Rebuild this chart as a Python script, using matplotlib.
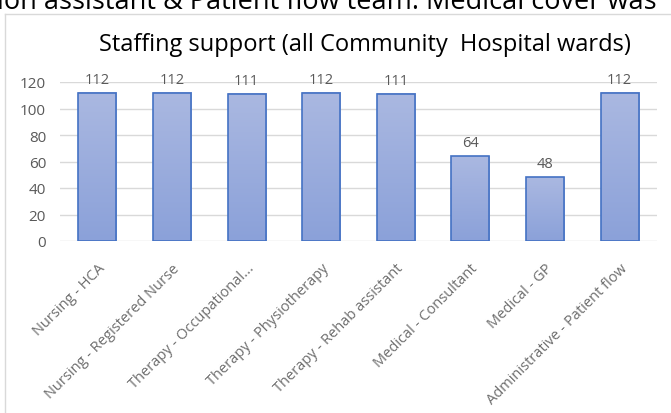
import matplotlib.pyplot as plt
import numpy as np
from matplotlib.colors import LinearSegmentedColormap

# Data
categories = ["Nursing - HCA", "Nursing - Registered Nurse", "Therapy - Occupational...",
              "Therapy - Physiotherapy", "Therapy - Rehab assistant", "Medical - Consultant",
              "Medical - GP", "Administrative - Patient flow"]
values = [112, 112, 111, 112, 111, 64, 48, 112]
yticks = [0, 20, 40, 60, 80, 100, 120]

plt.rcParams['font.family'] = ['Open Sans', 'DejaVu Sans']
grey = "#595959"

fig = plt.figure(figsize=(6.71, 4.14), dpi=100)

# clipped document line above the chart
fig.text(-0.004, 1 - 9 / 414, "ion assistant & Patient flow team. Medical cover was",
         fontsize=19.5, color="black", va="baseline", ha="left")

# chart frame
fig.add_artist(plt.Line2D([5 / 671, 5 / 671], [0, 1 - 15 / 414], color="#d9d9d9", lw=1))
fig.add_artist(plt.Line2D([5 / 671, 1], [1 - 15 / 414, 1 - 15 / 414], color="#d9d9d9", lw=1))

ax = fig.add_axes([60 / 671, 1 - 242 / 414, (657 - 60) / 671, (242 - 83) / 414])
x = np.arange(len(categories))
w = 0.51
bars = ax.bar(x, values, width=w, color="none", edgecolor="#4472c4", linewidth=1.2, zorder=4)

# vertical gradient inside each bar
grad = np.linspace(0, 1, 100).reshape(-1, 1)
cmap = LinearSegmentedColormap.from_list("g", ["#8ba1d9", "#aab8e1"])
for xi, v in zip(x, values):
    ax.imshow(grad, extent=(xi - w / 2, xi + w / 2, 0, v), origin="lower", cmap=cmap,
              aspect="auto", zorder=3.5)

for xi, v in zip(x, values):
    ax.text(xi, v + 4.5, str(v), ha="center", va="bottom", fontsize=10.5, color=grey)

ax.set_xlim(-0.5, len(categories) - 0.5)
ax.set_ylim(0, 120)
ax.set_yticks(yticks)
ax.set_yticklabels([str(t) for t in yticks], fontsize=11, color=grey)
ax.set_xticks(x)
ax.set_xticklabels(categories, rotation=45, ha="right", va="top", rotation_mode="anchor",
                   fontsize=10.5, color="#6e6e6e")
ax.tick_params(axis="y", length=0, pad=10)
ax.tick_params(axis="x", length=0, pad=14)
ax.grid(axis="y", color="#d9d9d9", lw=1, zorder=0)
for s in ax.spines.values():
    s.set_visible(False)

fig.text(365 / 671, 1 - 45 / 414, "Staffing support (all Community  Hospital wards)",
         ha="center", va="center", fontsize=17, color="black")

fig.savefig("out.png", dpi=100)
